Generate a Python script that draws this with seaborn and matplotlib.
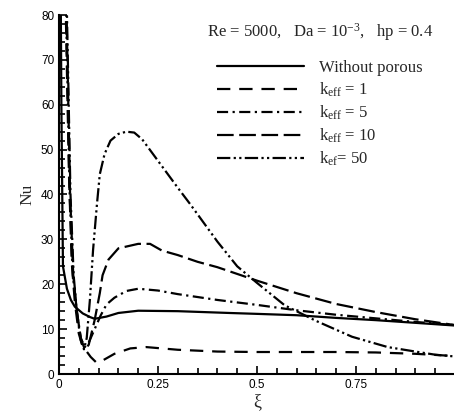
import matplotlib
matplotlib.use("Agg")
import matplotlib.pyplot as plt
from matplotlib.ticker import MultipleLocator
import seaborn as sns
import pandas as pd

sns.set_theme(style="ticks")
plt.rcParams['font.family'] = ['Liberation Sans', 'DejaVu Sans']
plt.rcParams['mathtext.fontset'] = 'custom'
plt.rcParams['mathtext.rm'] = 'Liberation Serif'
plt.rcParams['mathtext.it'] = 'Liberation Serif:italic'

# curves (xi, Nu)
x_plain = [0.002, 0.006, 0.01, 0.02, 0.03, 0.04, 0.06, 0.078, 0.09, 0.12, 0.15, 0.2,
           0.3, 0.43, 0.5, 0.6, 0.7, 0.8, 0.9, 1.0]
nu_plain = [120, 60, 24, 19, 16.5, 15, 13.5, 12.7, 12.3, 12.8, 13.6, 14.1,
            14.0, 13.6, 13.4, 13.1, 12.5, 12.0, 11.4, 10.8]

x_k1 = [0.004, 0.015, 0.025, 0.032, 0.04, 0.05, 0.06, 0.07, 0.08, 0.095, 0.11, 0.14,
        0.18, 0.22, 0.3, 0.4, 0.5, 0.6, 0.7, 0.8, 0.9, 1.0]
nu_k1 = [150, 90, 45, 25, 16, 9, 6, 5, 3.8, 2.5, 3.0, 4.5,
         5.7, 6.0, 5.4, 5.0, 4.9, 4.9, 4.9, 4.8, 4.5, 4.0]

x_k5 = [0.005, 0.017, 0.027, 0.035, 0.045, 0.055, 0.065, 0.075, 0.09, 0.105, 0.12, 0.14,
        0.17, 0.2, 0.25, 0.3, 0.4, 0.5, 0.6, 0.7, 0.8, 0.9, 1.0]
nu_k5 = [150, 85, 40, 22, 14, 8, 6, 7, 10, 13, 15.5, 17,
         18.5, 19, 18.6, 17.8, 16.5, 15.4, 14.2, 13.2, 12.4, 11.6, 10.9]

x_k10 = [0.006, 0.018, 0.028, 0.036, 0.045, 0.055, 0.065, 0.075, 0.09, 0.103, 0.11, 0.125,
         0.15, 0.2, 0.23, 0.26, 0.3, 0.35, 0.4, 0.45, 0.5, 0.6, 0.7, 0.8, 0.9, 1.0]
nu_k10 = [150, 85, 40, 22, 14, 8, 5.5, 6.5, 12, 18, 22, 25.5,
          28, 29, 29, 27.5, 26.5, 25, 23.8, 22.3, 20.8, 18, 15.6, 13.8, 12.2, 10.9]

x_k50 = [0.007, 0.019, 0.029, 0.037, 0.046, 0.055, 0.063, 0.07, 0.078, 0.086, 0.096, 0.103,
         0.115, 0.13, 0.15, 0.17, 0.19, 0.21, 0.25, 0.3, 0.33, 0.4, 0.45, 0.5, 0.57, 0.65,
         0.74, 0.83, 0.9, 0.95, 1.0]
nu_k50 = [150, 85, 40, 22, 13, 7.5, 5.5, 8, 16.5, 27.6, 38, 44.5,
          49, 52, 53.5, 54, 53.8, 52.3, 47.5, 41.5, 38, 29.5, 24, 20.3, 15.3, 11.8,
          8.3, 6, 5, 4.3, 3.9]

labels = ["Without porous", r"k$_{\mathrm{eff}}$ = 1", r"k$_{\mathrm{eff}}$ = 5",
          r"k$_{\mathrm{eff}}$ = 10", r"k$_{\mathrm{ef}}$= 50"]
xtick_vals = [0, 0.25, 0.5, 0.75, 1.0]
xtick_labels = ["0", "0.25", "0.5", "0.75", ""]

frames = []
for lab, xs, ys in zip(labels, [x_plain, x_k1, x_k5, x_k10, x_k50],
                       [nu_plain, nu_k1, nu_k5, nu_k10, nu_k50]):
    frames.append(pd.DataFrame({"xi": xs, "Nu": ys, "case": lab}))
df = pd.concat(frames, ignore_index=True)

dash_map = {labels[0]: "",
            labels[1]: (6, 4),
            labels[2]: (5, 2, 1, 2),
            labels[3]: (7.5, 2.5),
            labels[4]: (6, 1.5, 1, 1.5, 1, 1.5)}

fig = plt.figure(figsize=(4.54, 4.15), dpi=100)
ax = fig.add_axes([59/454, 41/415, 396/454, 359/415])

sns.lineplot(data=df, x="xi", y="Nu", style="case", style_order=labels,
             dashes=dash_map, color="black", linewidth=1.6, estimator=None,
             sort=False, ax=ax)

ax.set_xlim(0, 1)
ax.set_ylim(0, 80)
ax.xaxis.set_minor_locator(MultipleLocator(0.05))
ax.yaxis.set_major_locator(MultipleLocator(10))
ax.yaxis.set_minor_locator(MultipleLocator(2))
ax.set_xticks(xtick_vals)
ax.set_xticklabels(xtick_labels)
ax.tick_params(which="both", direction="in", labelsize=8.5, width=1.2, colors="black")
ax.tick_params(which="major", length=6)
ax.tick_params(which="minor", length=4)
sns.despine(ax=ax)
for s in ["left", "bottom"]:
    ax.spines[s].set_linewidth(1.5)
    ax.spines[s].set_color("black")

ax.set_xlabel("ξ", family=["Liberation Serif", "DejaVu Serif"], fontsize=13, labelpad=2)
ax.set_ylabel("Nu", family=["Liberation Serif", "DejaVu Serif"], fontsize=12.5, labelpad=4)

fig.text(207/454, 1 - 32/415, r"Re = 5000,   Da = 10$^{-3}$,   hp = 0.4",
         family=["Liberation Serif", "DejaVu Serif"], fontsize=12, ha="left", va="center")

handles, labs = ax.get_legend_handles_labels()
leg = ax.legend(handles, labs, loc="upper left", bbox_to_anchor=(217/454, 1 - 60/415),
                bbox_transform=fig.transFigure, frameon=False, handlelength=5.2,
                handletextpad=0.9, labelspacing=0.28, borderpad=0, borderaxespad=0,
                prop={"family": "Liberation Serif", "size": 12})

fig.savefig("out.png", dpi=100)
